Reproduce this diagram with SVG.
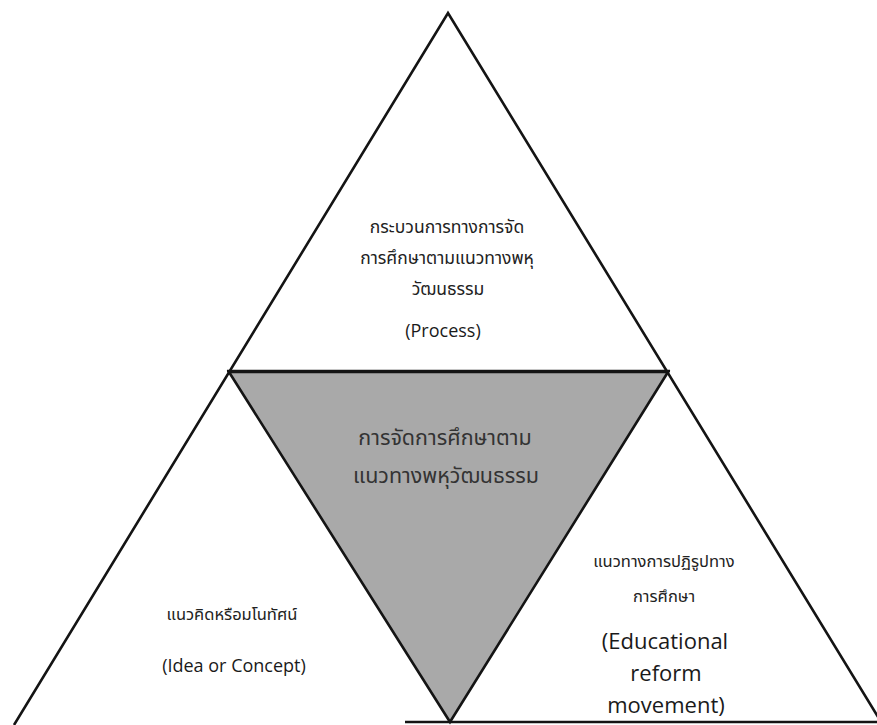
<svg xmlns="http://www.w3.org/2000/svg" width="877" height="725" viewBox="0 0 877 725">
<style>
.ln{stroke:#141414;stroke-width:2.6;fill:none;stroke-linejoin:miter}
.th{font-family:"Noto Sans Thai","Noto Sans","DejaVu Sans",sans-serif;font-size:17.5px;fill:#222;text-anchor:middle}
.thl{font-family:"Noto Sans Thai","Noto Sans","DejaVu Sans",sans-serif;font-size:16.5px;fill:#222;text-anchor:middle}
.thb{font-family:"Noto Sans Thai","Noto Sans","DejaVu Sans",sans-serif;font-size:21.5px;fill:#333;text-anchor:middle}
.en{font-family:"Open Sans","Liberation Sans",sans-serif;font-size:18px;fill:#1a1a1a;text-anchor:middle}
.enb{font-family:"Open Sans","Liberation Sans",sans-serif;font-size:22px;fill:#1a1a1a;text-anchor:middle}
</style>
<rect width="877" height="725" fill="#ffffff"/>
<g id="connectors">
<polyline class="ln" points="14,725 448,13 883,725"/>
<line class="ln" x1="227" y1="371" x2="670" y2="371"/>
<line class="ln" x1="405" y1="722" x2="877" y2="722"/>
</g>
<g id="center">
<polygon points="229,372 668,372 450,722" fill="#a9a9a9" stroke="#141414" stroke-width="2.6"/>
<text class="thb" x="445" y="445">การจัดการศึกษาตาม</text>
<text class="thb" x="446" y="483">แนวทางพหุวัฒนธรรม</text>
</g>
<g id="top">
<text class="th" x="447" y="233">กระบวนการทางการจัด</text>
<text class="th" x="447" y="264">การศึกษาตามแนวทางพหุ</text>
<text class="th" x="448" y="295">วัฒนธรรม</text>
<text class="en" x="443" y="337">(Process)</text>
</g>
<g id="left">
<text class="thl" x="232" y="620">แนวคิดหรือมโนทัศน์</text>
<text class="en" x="234" y="672">(Idea or Concept)</text>
</g>
<g id="right">
<text class="thl" x="664" y="567">แนวทางการปฏิรูปทาง</text>
<text class="thl" x="664" y="602">การศึกษา</text>
<text class="enb" x="665" y="649">(Educational</text>
<text class="enb" x="666" y="681">reform</text>
<text class="enb" x="666" y="713">movement)</text>
</g>
</svg>
